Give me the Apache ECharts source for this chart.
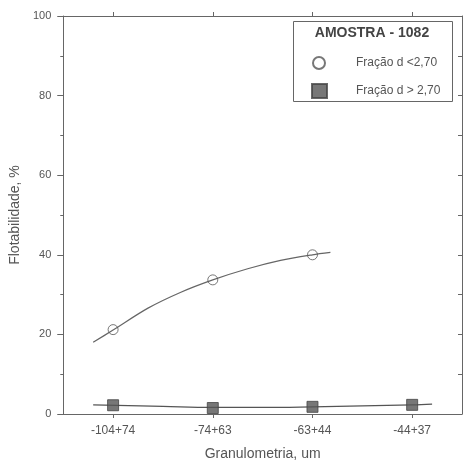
<!DOCTYPE html>
<html>
<head>
<meta charset="utf-8">
<script src="https://cdn.jsdelivr.net/npm/echarts@6/dist/echarts.min.js"></script>
<style>html,body{margin:0;padding:0;background:#fff;overflow:hidden}#c{width:464px;height:466px}</style>
</head>
<body>
<div id="c"></div>
<script>
var categories = ['-104+74', '-74+63', '-63+44', '-44+37'];
var yTicks = [0, 20, 40, 60, 80, 100];
var lightName = 'Fração d <2,70';
var heavyName = 'Fração d > 2,70';
var lightValues = [21.2, 33.7, 40.0];
var heavyValues = [2.2, 1.5, 1.8, 2.3];
// fitted curves: [category position, value]
var lightFitX = [-0.2, 0.0, 0.35, 0.68, 1.0, 1.35, 1.68, 2.0, 2.18];
var lightFitY = [18.0, 21.1, 26.6, 30.6, 33.7, 36.5, 38.6, 40.0, 40.6];
var heavyFitX = [-0.2, 0.5, 1.0, 1.5, 2.0, 2.5, 3.0, 3.2];
var heavyFitY = [2.3, 1.9, 1.65, 1.65, 1.8, 2.05, 2.3, 2.5];

function pairs(xs, ys) { return xs.map(function (x, i) { return [x, ys[i]]; }); }
function catPairs(vals) { return vals.map(function (v, i) { return [i, v]; }); }
var catIdx = categories.map(function (c, i) { return i; });

var ink = '#555';
var font = '"Liberation Sans", Arial, sans-serif';

var chart = echarts.init(document.getElementById('c'), null, { renderer: 'canvas', width: 464, height: 466 });
chart.setOption({
  animation: false,
  backgroundColor: '#fff',
  grid: { left: 62, width: 400, top: 16, height: 404, containLabel: false },
  xAxis: [{
    type: 'value', position: 'bottom', min: -0.5, max: 3.5,
    name: 'Granulometria, um', nameLocation: 'middle', nameGap: 33,
    nameTextStyle: { fontSize: 14, color: ink, fontFamily: font },
    axisLine: { onZero: false, lineStyle: { color: '#666', width: 1 } },
    axisTick: { show: true, customValues: catIdx, length: 4, lineStyle: { color: '#666' } },
    axisLabel: { customValues: catIdx, margin: 11, fontSize: 12, color: ink, fontFamily: font,
      formatter: function (v) { return categories[Math.round(v)]; } },
    splitLine: { show: false }
  }, {
    type: 'value', position: 'top', min: -0.5, max: 3.5,
    axisLine: { onZero: false, lineStyle: { color: '#666', width: 1 } },
    axisTick: { show: true, customValues: catIdx, length: 4, lineStyle: { color: '#666' } },
    axisLabel: { show: false },
    splitLine: { show: false }
  }],
  yAxis: [{
    type: 'value', position: 'left', min: 0, max: 100, interval: 20,
    name: 'Flotabilidade, %', nameLocation: 'middle', nameGap: 34,
    nameTextStyle: { fontSize: 14, color: ink, fontFamily: font },
    axisLine: { show: true, onZero: false, lineStyle: { color: '#666', width: 1 } },
    axisTick: { show: true, length: 6, lineStyle: { color: '#666' } },
    minorTick: { show: true, splitNumber: 2, length: 3, lineStyle: { color: '#666' } },
    axisLabel: { margin: 12, fontSize: 11, color: ink, fontFamily: font,
      formatter: function (v) { return yTicks.indexOf(v) >= 0 ? String(v) : ''; } },
    splitLine: { show: false }
  }, {
    type: 'value', position: 'right', min: 0, max: 100, interval: 10,
    axisLine: { show: true, onZero: false, lineStyle: { color: '#666', width: 1 } },
    axisTick: { show: true, inside: true, length: 4, lineStyle: { color: '#666' } },
    axisLabel: { show: false },
    splitLine: { show: false }
  }],
  legend: [{
    data: [{ name: lightName, icon: 'circle' }],
    left: 312, top: 56, padding: 0, itemWidth: 12, itemHeight: 12,
    textStyle: { fontSize: 12, color: ink, fontFamily: font, padding: [0, 0, 0, 26] }
  }, {
    data: [{ name: heavyName, icon: 'rect' }],
    left: 311, top: 83, padding: 0, itemWidth: 15, itemHeight: 14,
    textStyle: { fontSize: 12, color: ink, fontFamily: font, padding: [0, 0, 0, 24] }
  }],
  graphic: [{
    type: 'rect', shape: { x: 293.5, y: 21.5, width: 159, height: 80 },
    style: { fill: 'rgba(0,0,0,0)', stroke: '#666', lineWidth: 1 }, z: 10
  }, {
    type: 'text', x: 372, y: 33,
    style: { text: 'AMOSTRA - 1082', align: 'center', verticalAlign: 'middle',
      font: 'bold 14px ' + font, fill: '#444' }, z: 10
  }],
  series: [{
    type: 'line', name: 'fit1', data: pairs(lightFitX, lightFitY), smooth: 0.3,
    showSymbol: false, symbol: 'none', lineStyle: { color: '#666', width: 1.2 }, z: 2, silent: true
  }, {
    type: 'line', name: 'fit2', data: pairs(heavyFitX, heavyFitY), smooth: 0.4,
    showSymbol: false, symbol: 'none', lineStyle: { color: '#555', width: 1.2 }, z: 2, silent: true
  }, {
    type: 'scatter', name: lightName, data: catPairs(lightValues), symbol: 'circle', symbolSize: 10,
    itemStyle: { color: 'rgba(255,255,255,0)', borderColor: '#555', borderWidth: 1 }, z: 3
  }, {
    type: 'scatter', name: heavyName, data: catPairs(heavyValues), symbol: 'rect', symbolSize: 11,
    itemStyle: { color: '#555', borderColor: '#444', borderWidth: 1 }, z: 3
  }]
});
</script>
</body>
</html>
